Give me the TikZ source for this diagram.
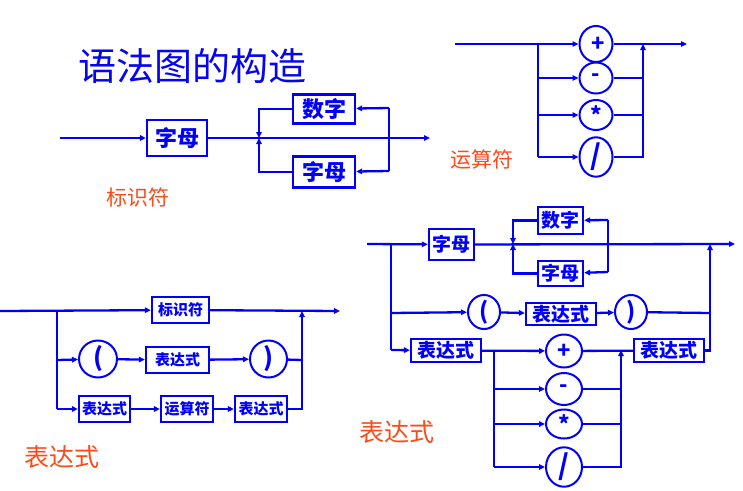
\documentclass[tikz,border=0pt]{standalone}
\usepackage{fontspec}
\newfontfamily\cjk{Noto Sans CJK SC}
\usetikzlibrary{shapes.geometric,arrows.meta}
\definecolor{colB}{RGB}{0,0,250}
\definecolor{colT}{RGB}{5,5,240}
\definecolor{colO}{RGB}{250,75,25}
\newcommand{\fs}[1]{\fontsize{#1}{#1}\selectfont}
\tikzstyle{wire}=[line width=2.3pt,colB]
\tikzstyle{wirearr}=[wire,-{Triangle[length=6pt,width=5.5pt]}]
\tikzstyle{box}=[rectangle,draw=colB,line width=2.3pt,text=colB,inner sep=0pt]
\tikzstyle{op}=[ellipse,draw=colB,line width=2pt,text=colB,inner sep=0pt,minimum width=33pt,minimum height=32pt,font=\cjk\bfseries\fs{22}]
\tikzstyle{lbl}=[text=colO]

\begin{document}
\begin{tikzpicture}[x=1pt,y=-1pt]
	\useasboundingbox (0,0) rectangle (743,490);

	%%% Title and names
	\node[text=colT,font=\cjk\fs{38}] (title) at (192,66) {语法图的构造};
	\node[lbl,font=\cjk\fs{21}] (nA) at (138,197) {标识符};
	\node[lbl,font=\cjk\fs{21}] (nB) at (482,160) {运算符};
	\node[lbl,font=\cjk\fs{25}] (nC) at (62,457)  {表达式};
	\node[lbl,font=\cjk\fs{25}] (nD) at (397,432) {表达式};

	%%% Identifier
	\coordinate (a0) at (60,138);
	\coordinate (aL) at (259,138);
	\coordinate (aRt) at (389,108);
	\coordinate (aRb) at (389,171);
	\coordinate (aE) at (430,138);
	\node[box,minimum width=60pt,minimum height=36pt,font=\cjk\bfseries\fs{22}] (a1) at (177,138) {字母};
	\node[box,minimum width=62pt,minimum height=29pt,font=\cjk\bfseries\fs{22}] (a2) at (324,109) {数字};
	\node[box,minimum width=62pt,minimum height=31pt,font=\cjk\bfseries\fs{22}] (a3) at (324,172) {字母};
	\draw[wirearr] (a0) -- (a1);
	\draw[wirearr] (a1) -- (aE);
	% loop back
	\draw[wire] (aRt) -- (aRb);
	\draw[wirearr] (aRt) -- (a2);
	\draw[wirearr] (aRb) -- (a3);
	\draw[wirearr] (a2) -| (aL);
	\draw[wirearr] (a3) -| (aL);

	%%% Operator
	\coordinate (b0) at (455,44);
	\coordinate (bL) at (538,44);
	\coordinate (bL2) at (538,78);
	\coordinate (bL3) at (538,115);
	\coordinate (bL4) at (538,157);
	\coordinate (bR) at (643,44);
	\coordinate (bE) at (687,44);
	\node[op,minimum height=36pt] (b1) at (596,44)  {\raisebox{-2pt}{\,+}};
	\node[op,minimum height=31pt] (b2) at (596,78)  {-};
	\node[op,minimum height=30pt] (b3) at (596,115) {*};
	\node[op,font=\cjk\bfseries\fs{28}] (b4) at (596,157) {/};
	\draw[wirearr] (b0) -- (b1);
	\draw[wirearr] (b1) -- (bE);
	\draw[wire] (bL) -- (bL4);
	\draw[wirearr] (bL2) -- (b2);
	\draw[wirearr] (bL3) -- (b3);
	\draw[wirearr] (bL4) -- (b4);
	\draw[wire] (b2) -- (b2 -| bR);
	\draw[wire] (b3) -- (b3 -| bR);
	\draw[wirearr] (b4) -| (bR);

	%%% Expression, left
	\coordinate (c0) at (0,311);
	\coordinate (cL) at (57,311);
	\coordinate (cL2) at (57,360);
	\coordinate (cL3) at (57,409);
	\coordinate (cR) at (302,311);
	\coordinate (cR2) at (302,360);
	\coordinate (cE) at (340,311);
	\node[box,minimum width=57pt,minimum height=26pt,font=\cjk\bfseries\fs{15}] (c1) at (180.5,310) {标识符};
	\node[op,minimum width=38pt,minimum height=30pt,font=\cjk\bfseries\fs{25}] (c2) at (98,359) {(};
	\node[box,minimum width=63pt,minimum height=26pt,font=\cjk\bfseries\fs{15}] (c3) at (177.5,360) {表达式};
	\node[op,minimum width=37pt,minimum height=30pt,font=\cjk\bfseries\fs{25}] (c4) at (268.5,359) {)};
	\node[box,minimum width=51pt,minimum height=26pt,font=\cjk\bfseries\fs{15}] (c5) at (104.5,409) {表达式};
	\node[box,minimum width=52pt,minimum height=26pt,font=\cjk\bfseries\fs{15}] (c6) at (187,409) {运算符};
	\node[box,minimum width=52pt,minimum height=26pt,font=\cjk\bfseries\fs{15}] (c7) at (261,409) {表达式};
	\draw[wirearr] (c0) -- (c1);
	\draw[wirearr] (c1) -- (cE);
	\draw[wire] (cL) -- (cL3);
	\draw[wirearr] (cL2) -- (c2);
	\draw[wirearr] (c2) -- (c3);
	\draw[wirearr] (c3) -- (c4);
	\draw[wire] (c4) -- (cR2);
	\draw[wirearr] (cL3) -- (c5);
	\draw[wirearr] (c5) -- (c6);
	\draw[wirearr] (c6) -- (c7);
	\draw[wirearr] (c7) -| (cR);

	%%% Expression, right
	\coordinate (d0) at (367,244);
	\coordinate (dL) at (391,244);
	\coordinate (dL2) at (391,313);
	\coordinate (dL3) at (391,350);
	\coordinate (dJ) at (513,244);
	\coordinate (dKt) at (608,220);
	\coordinate (dKb) at (608,272);
	\coordinate (dR) at (710,244);
	\coordinate (dR2) at (710,313);
	\coordinate (dE) at (735,244);
	\coordinate (dM) at (494,350);
	\coordinate (dM2) at (494,389);
	\coordinate (dM3) at (494,424);
	\coordinate (dM4) at (494,467);
	\coordinate (dN) at (621,350);
	\node[box,minimum width=45pt,minimum height=31pt,font=\cjk\bfseries\fs{19}] (d1) at (451.5,244.5) {字母};
	\node[box,minimum width=45pt,minimum height=27pt,font=\cjk\bfseries\fs{19}] (d2) at (560.5,220.5) {数字};
	\node[box,minimum width=45pt,minimum height=25pt,font=\cjk\bfseries\fs{19}] (d3) at (560.5,273.5) {字母};
	\node[op,minimum width=32pt,minimum height=28pt,font=\cjk\bfseries\fs{23}] (d4) at (484,312) {(};
	\node[box,minimum width=70pt,minimum height=22pt,font=\cjk\bfseries\fs{19}] (d5) at (561,314) {表达式};
	\node[op,minimum width=32pt,minimum height=28pt,font=\cjk\bfseries\fs{23}] (d6) at (631,312) {)};
	\node[box,minimum width=70pt,minimum height=23pt,font=\cjk\bfseries\fs{19}] (d7) at (446,350.5) {表达式};
	\node[op,minimum width=36pt,minimum height=33pt] (d8)  at (564,351) {\raisebox{-2pt}{+}};
	\node[op,minimum width=36pt,minimum height=32pt] (d9)  at (564,389) {-};
	\node[op,minimum width=36pt,minimum height=29pt] (d10) at (564,424) {*};
	\node[op,minimum width=36pt,minimum height=32pt,font=\cjk\bfseries\fs{28}] (d11) at (564,467) {/};
	\node[box,minimum width=70pt,minimum height=23pt,font=\cjk\bfseries\fs{19}] (d12) at (669,350.5) {表达式};
	% top row with loop
	\draw[wirearr] (d0) -- (d1);
	\draw[wirearr] (d1) -- (dE);
	\draw[wire] (dKt) -- (dKb);
	\draw[wirearr] (dKt) -- (d2);
	\draw[wirearr] (dKb) -- (d3);
	\draw[wirearr] (d2) -| (dJ);
	\draw[wirearr] (d3) -| (dJ);
	% left rail
	\draw[wire] (dL) -- (dL3);
	\draw[wirearr] (dL2) -- (d4);
	\draw[wirearr] (d4) -- (d5);
	\draw[wirearr] (d5) -- (d6);
	\draw[wire] (d6) -- (dR2);
	\draw[wirearr] (dL3) -- (d7);
	% operators
	\draw[wirearr] (d7) -- (d8);
	\draw[wire] (dM) -- (dM4);
	\draw[wirearr] (dM2) -- (d9);
	\draw[wirearr] (dM3) -- (d10);
	\draw[wirearr] (dM4) -- (d11);
	\draw[wire] (d8) -- (d12);
	\draw[wire] (d9) -- (d9 -| dN);
	\draw[wire] (d10) -- (d10 -| dN);
	\draw[wirearr] (d11) -| (dN);
	\draw[wirearr] (d12) -| (dR);
\end{tikzpicture}
\end{document}
